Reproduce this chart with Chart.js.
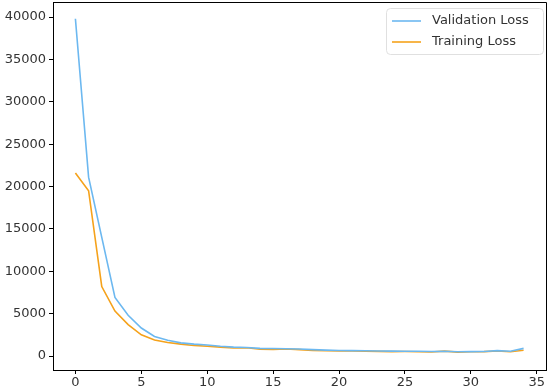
<!DOCTYPE html>
<html>
<head>
<meta charset="utf-8">
<script src="https://cdn.jsdelivr.net/npm/chart.js@4"></script>
<style>
  html, body { margin: 0; padding: 0; background: #fff; }
  #wrap { width: 551px; height: 390px; }
</style>
</head>
<body>
<div id="wrap"><canvas id="loss_chart" width="551" height="390"></canvas></div>
<script>
// loss per epoch
var epochs = [0,1,2,3,4,5,6,7,8,9,10,11,12,13,14,15,16,17,18,19,20,21,22,23,24,25,26,27,28,29,30,31,32,33,34];
var validationLoss = [39800, 21100, 14000, 6900, 4800, 3300, 2300, 1850, 1550, 1400, 1300, 1150, 1050, 1000, 900,
                      880, 850, 820, 750, 700, 650, 640, 620, 600, 580, 570, 560, 540, 560, 500, 520, 540, 640, 560, 900];
var trainingLoss = [21600, 19500, 8200, 5300, 3700, 2500, 1900, 1600, 1400, 1250, 1150, 1050, 950, 980, 800,
                    780, 820, 750, 650, 620, 600, 600, 580, 550, 520, 530, 510, 480, 580, 460, 500, 520, 600, 500, 680];
var seriesNames = ['Validation Loss', 'Training Loss'];
var COLORS = ['#6cb8f0', '#f5a21b'];
var xTicks = [0, 5, 10, 15, 20, 25, 30, 35];
var yTicks = [0, 5000, 10000, 15000, 20000, 25000, 30000, 35000, 40000];

function toPoints(values) {
    return epochs.map(function (e, i) { return {x: e, y: values[i]}; });
}

var TICK_FONT = {family: 'DejaVu Sans', size: 13};
var TEXT_COLOR = '#333333';

// top/right spines + boxed legend like matplotlib
var framePlugin = {
    id: 'frame',
    afterDraw: function (chart) {
        var ctx = chart.ctx, a = chart.chartArea;
        ctx.save();
        ctx.strokeStyle = '#000';
        ctx.lineWidth = 1;
        ctx.beginPath();
        ctx.moveTo(a.left, a.top + 0.5);
        ctx.lineTo(a.right + 0.5, a.top + 0.5);
        ctx.lineTo(a.right + 0.5, a.bottom);
        ctx.stroke();

        // legend box
        var bx = 386.5, by = 8.5, bw = 157, bh = 46, r = 4;
        ctx.fillStyle = 'rgba(255,255,255,0.8)';
        ctx.strokeStyle = '#e0e0e0';
        ctx.beginPath();
        ctx.moveTo(bx + r, by);
        ctx.lineTo(bx + bw - r, by);
        ctx.quadraticCurveTo(bx + bw, by, bx + bw, by + r);
        ctx.lineTo(bx + bw, by + bh - r);
        ctx.quadraticCurveTo(bx + bw, by + bh, bx + bw - r, by + bh);
        ctx.lineTo(bx + r, by + bh);
        ctx.quadraticCurveTo(bx, by + bh, bx, by + bh - r);
        ctx.lineTo(bx, by + r);
        ctx.quadraticCurveTo(bx, by, bx + r, by);
        ctx.closePath();
        ctx.fill();
        ctx.stroke();

        ctx.font = '13px "DejaVu Sans"';
        ctx.textBaseline = 'middle';
        ctx.textAlign = 'left';
        for (var i = 0; i < seriesNames.length; i++) {
            var yy = 21 + i * 21;
            ctx.strokeStyle = COLORS[i];
            ctx.lineWidth = 1.6;
            ctx.beginPath();
            ctx.moveTo(392, yy);
            ctx.lineTo(421, yy);
            ctx.stroke();
            ctx.fillStyle = TEXT_COLOR;
            ctx.fillText(seriesNames[i], 432, yy);
        }
        ctx.restore();
    }
};

var loss_chart = new Chart(document.getElementById('loss_chart'), {
    type: 'line',
    data: {
        datasets: [
            {
                label: seriesNames[0],
                data: toPoints(validationLoss),
                borderColor: COLORS[0],
                backgroundColor: COLORS[0],
                borderWidth: 1.6,
                pointRadius: 0,
                tension: 0
            },
            {
                label: seriesNames[1],
                data: toPoints(trainingLoss),
                borderColor: COLORS[1],
                backgroundColor: COLORS[1],
                borderWidth: 1.6,
                pointRadius: 0,
                tension: 0
            }
        ]
    },
    options: {
        responsive: false,
        animation: false,
        layout: {padding: {top: 2, right: 5, left: 0, bottom: 0}},
        plugins: {
            legend: {display: false},
            tooltip: {enabled: false}
        },
        scales: {
            x: {
                type: 'linear',
                min: -1.7,
                max: 35.7,
                afterFit: function (scale) {
                    scale.height = 20;
                    scale.paddingLeft = 0;
                    scale.paddingRight = 0;
                },
                afterBuildTicks: function (scale) {
                    scale.ticks = xTicks.map(function (v) { return {value: v}; });
                },
                border: {display: true, color: '#000', width: 1},
                grid: {drawOnChartArea: false, drawTicks: true, tickLength: 4, color: '#000'},
                ticks: {
                    font: TICK_FONT,
                    color: TEXT_COLOR,
                    padding: 1,
                    maxRotation: 0,
                    autoSkip: false
                }
            },
            y: {
                type: 'linear',
                min: -1650,
                max: 41770,
                afterFit: function (scale) {
                    scale.width = 53;
                    scale.paddingTop = 0;
                    scale.paddingBottom = 0;
                },
                afterBuildTicks: function (scale) {
                    scale.ticks = yTicks.map(function (v) { return {value: v}; });
                },
                border: {display: true, color: '#000', width: 1},
                grid: {drawOnChartArea: false, drawTicks: true, tickLength: 4, color: '#000'},
                ticks: {
                    font: TICK_FONT,
                    color: TEXT_COLOR,
                    padding: 3,
                    autoSkip: false,
                    callback: function (v) { return String(v); }
                }
            }
        }
    },
    plugins: [framePlugin]
});
</script>
</body>
</html>
